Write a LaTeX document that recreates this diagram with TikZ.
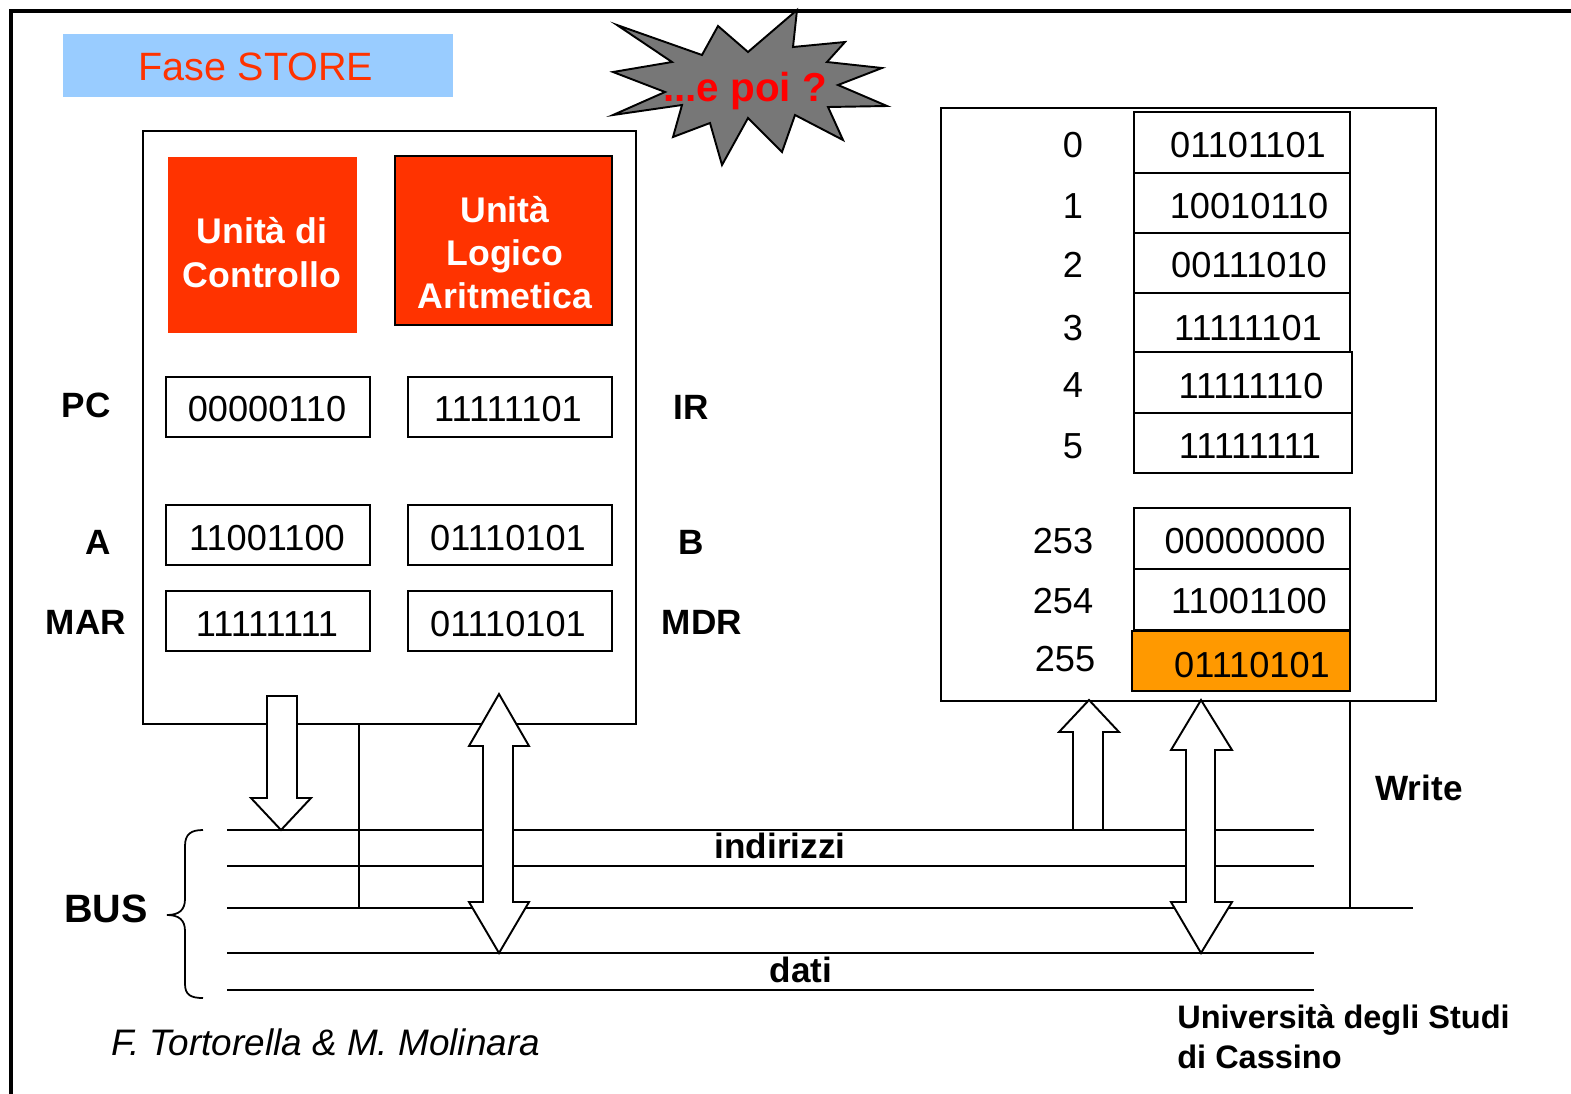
\documentclass[tikz,border=0pt]{standalone}
\usepackage{fontspec}
\setmainfont{Liberation Sans}
\definecolor{aluRed}{HTML}{FF3300}
\definecolor{memOrange}{HTML}{FF9900}
\definecolor{titleBlue}{HTML}{99CCFF}
\definecolor{burstGray}{HTML}{777777}
\definecolor{poiRed}{HTML}{FF0000}
\begin{document}
\begin{tikzpicture}[x=0.02cm,y=-0.02cm,
  lbl/.style={font=\fontsize{20}{24}\selectfont\bfseries, anchor=base, inner sep=0pt},
  val/.style={font=\fontsize{20.6}{24}\selectfont, anchor=base, inner sep=0pt},
  unitxt/.style={font=\fontsize{20.3}{24}\selectfont\bfseries, text=white, anchor=base, inner sep=0pt},
  regbox/.style={draw, line width=1.1pt},
  bigarrow/.style={draw, fill=white, line width=1.1pt, line join=miter},
  busline/.style={line width=1.2pt},
  thinline/.style={line width=1.1pt}
]
\useasboundingbox (0,0) rectangle (1571,1093);
% outer frame
\draw[line width=1.8pt] (11,1100) -- (11,11) -- (1575,11);

% title
\fill[titleBlue] (63,34) rectangle (453,97);
\node[font=\fontsize{22.5}{26}\selectfont, text=aluRed, anchor=base, inner sep=0pt] (fase) at (256,80) {Fase STORE};

% starburst
\draw[fill=burstGray, line width=1.1pt, line join=miter]
 (617,25) -- (702,55) -- (718,26) -- (748,52) -- (797,10) -- (793,47) -- (845,42) -- (827,62)
 -- (882,68) -- (838,85) -- (887,106) -- (828,107) -- (843,140) -- (795,115) -- (782,152)
 -- (748,118) -- (722,165) -- (710,123) -- (673,137) -- (682,105) -- (613,115) -- (665,92)
 -- (613,72) -- (672,62) -- cycle;
\node[font=\fontsize{23}{26}\selectfont\bfseries, text=poiRed, anchor=base, inner sep=0pt] (poi) at (745,101) {...e poi ?};

% CPU box
\draw[thinline] (143,131) rectangle (636,724);
\fill[aluRed] (168,157) rectangle (357,333);
\draw[fill=aluRed, line width=1.3pt] (395,156) rectangle (612,325);
\node[unitxt] (cu1) at (262,243) {Unità di};
\node[unitxt] (cu2) at (262,287) {Controllo};
\node[unitxt] (alu1) at (505,222) {Unità};
\node[unitxt] (alu2) at (505,265) {Logico};
\node[unitxt] (alu3) at (505,308) {Aritmetica};

% registers
\draw[regbox] (166,377) rectangle (370,437);
\draw[regbox] (408,377) rectangle (612,437);
\draw[regbox] (166,505) rectangle (370,565);
\draw[regbox] (408,505) rectangle (612,565);
\draw[regbox] (166,591) rectangle (370,651);
\draw[regbox] (408,591) rectangle (612,651);
\node[val] (pcv) at (267,421) {00000110};
\node[val] (irv) at (508,421) {11111101};
\node[val] (av) at (267,550) {11001100};
\node[val] (bv) at (508,550) {01110101};
\node[val] (marv) at (267,636) {11111111};
\node[val] (mdrv) at (508,636) {01110101};
\node[lbl] (pcl) at (86,417) {PC};
\node[lbl] (irl) at (691,419) {IR};
\node[lbl] (al) at (98,554) {A};
\node[lbl] (bl) at (691,554) {B};
\node[lbl] (marl) at (86,634) {MAR};
\node[lbl] (mdrl) at (702,634) {MDR};

% memory
\draw[thinline] (941,108) rectangle (1436,701);
\draw[regbox] (1134,112) rectangle (1350,173);
\draw[regbox] (1134,173) rectangle (1350,233);
\draw[regbox] (1134,233) rectangle (1350,293);
\draw[regbox] (1134,293) rectangle (1350,352);
\draw[regbox] (1134,352) rectangle (1352,413);
\draw[regbox] (1134,413) rectangle (1352,473);
\draw[regbox] (1134,508) rectangle (1350,569);
\draw[regbox] (1134,569) rectangle (1350,630);
\draw[fill=memOrange, line width=1.3pt] (1132,631) rectangle (1350,691);
\node[val] (m0) at (1073,157) {0};
\node[val] (m1) at (1073,218) {1};
\node[val] (m2) at (1073,277) {2};
\node[val] (m3) at (1073,340) {3};
\node[val] (m4) at (1073,397) {4};
\node[val] (m5) at (1073,458) {5};
\node[val] (m253) at (1063,553) {253};
\node[val] (m254) at (1063,613) {254};
\node[val] (m255) at (1065,671) {255};
\node[val] (v0) at (1248,157) {01101101};
\node[val] (v1) at (1249,218) {10010110};
\node[val] (v2) at (1249,277) {00111010};
\node[val] (v3) at (1248,340) {11111101};
\node[val] (v4) at (1251,398) {11111110};
\node[val] (v5) at (1250,458) {11111111};
\node[val] (v253) at (1245,553) {00000000};
\node[val] (v254) at (1249,613) {11001100};
\node[val] (v255) at (1252,677) {01110101};

% bus
\coordinate (busL1) at (227,830); \coordinate (busR1) at (1314,830);
\coordinate (busL2) at (227,866); \coordinate (busR2) at (1314,866);
\coordinate (busL3) at (227,908); \coordinate (busR3) at (1413,908);
\coordinate (busL4) at (227,953); \coordinate (busR4) at (1314,953);
\coordinate (busL5) at (227,990); \coordinate (busR5) at (1314,990);
\draw[busline] (busL1) -- (busR1);
\draw[busline] (busL2) -- (busR2);
\draw[busline] (busL3) -- (busR3);
\draw[busline] (busL4) -- (busR4);
\draw[busline] (busL5) -- (busR5);
\coordinate (cpuCtl) at (359,724); \coordinate (cpuCtlB) at (359,908);
\coordinate (memCtl) at (1350,701); \coordinate (memCtlB) at (1350,908);
\draw[thinline] (cpuCtl) -- (cpuCtlB);
\draw[thinline] (memCtl) -- (memCtlB);

% brace
\draw[line width=1.0pt] (203,830) .. controls (191,830) and (185,834) .. (185,846) -- (185,899)
  .. controls (185,910) and (179,915) .. (167,915)
  .. controls (179,915) and (185,920) .. (185,931) -- (185,984)
  .. controls (185,995) and (191,998) .. (203,998);
\node[font=\fontsize{22.5}{26}\selectfont\bfseries, anchor=base, inner sep=0pt] (bus) at (106,922) {BUS};

% big arrows
\draw[bigarrow] (267,696) -- (297,696) -- (297,798) -- (311,798) -- (281,830) -- (251,798) -- (267,798) -- cycle;
\draw[bigarrow] (499,694) -- (529,746) -- (513,746) -- (513,902) -- (529,902) -- (499,953)
  -- (469,902) -- (483,902) -- (483,746) -- (469,746) -- cycle;
\draw[bigarrow] (1089,700) -- (1119,732) -- (1103,732) -- (1103,830) -- (1073,830) -- (1073,732) -- (1059,732) -- cycle;
\draw[bigarrow] (1201,700) -- (1232,750) -- (1215,750) -- (1215,902) -- (1232,902) -- (1201,953)
  -- (1171,902) -- (1186,902) -- (1186,750) -- (1171,750) -- cycle;

% bus labels
\node[lbl] (ind) at (780,858) {indirizzi};
\node[lbl] (dati) at (801,982) {dati};
\node[lbl] (write) at (1419,800) {Write};

% footer
\node[font=\fontsize{18.5}{22}\selectfont\bfseries, anchor=base west, inner sep=0pt] (uni1) at (1177,1028) {Università degli Studi};
\node[font=\fontsize{18.5}{22}\selectfont\bfseries, anchor=base west, inner sep=0pt] (uni2) at (1177,1068) {di Cassino};
\node[font=\fontsize{21}{24}\selectfont\itshape, anchor=base west, inner sep=0pt] (auth) at (111,1055) {F. Tortorella \& M. Molinara};
\end{tikzpicture}
\end{document}
